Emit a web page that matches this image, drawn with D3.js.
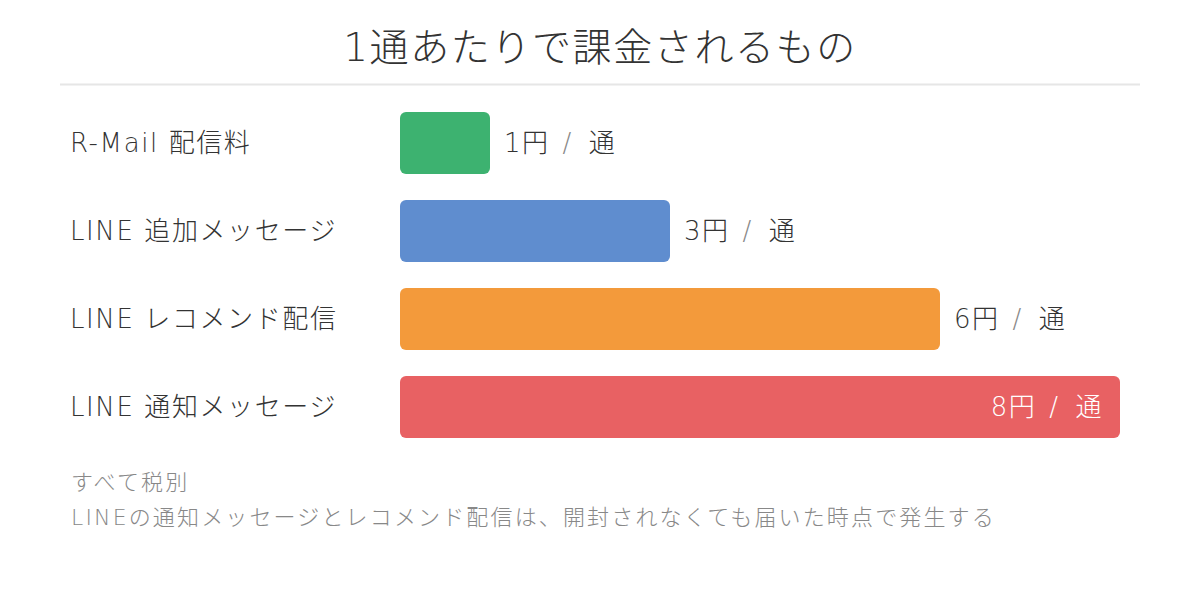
<!DOCTYPE html>
<html><head><meta charset="utf-8">
<script src="https://cdn.jsdelivr.net/npm/d3@7"></script>
<style>
html,body{margin:0;padding:0;background:#fff;}
svg{display:block;font-family:"DejaVu Sans","Noto Sans CJK JP",sans-serif;}
</style></head>
<body>
<svg id="chart" width="1200" height="592"></svg>
<script>
const title = "1通あたりで課金されるもの";
const categories = ["R-Mail 配信料", "LINE 追加メッセージ", "LINE レコメンド配信", "LINE 通知メッセージ"];
const values = [1, 3, 6, 8];
const colors = ["#3db270", "#5f8dcf", "#f39a3b", "#e86163"];
const unitLabel = "円";
const perLabel = "通";
const notes = ["すべて税別", "LINEの通知メッセージとレコメンド配信は、開封されなくても届いた時点で発生する"];

const svg = d3.select("#chart");
svg.append("text").attr("x", 600).attr("y", 61).attr("text-anchor", "middle")
  .attr("font-size", 39).attr("font-weight", 300).attr("letter-spacing", 1.6)
  .attr("fill", "#333").text(title);
svg.append("line").attr("x1", 60).attr("x2", 1140).attr("y1", 84.5).attr("y2", 84.5)
  .attr("stroke", "#e6e6e6").attr("stroke-width", 2);

const x = d3.scaleLinear().domain([0, 8]).range([400, 1120]);
const step = 88, bh = 62;
const y = d3.scalePoint().domain(categories).range([112, 112 + step * (categories.length - 1)]);

const g = svg.selectAll("g.row").data(categories).enter().append("g");
g.append("text").attr("x", 70).attr("y", c => y(c) + bh/2).attr("dy", "0.36em")
  .attr("font-size", 26).attr("font-weight", 300).attr("letter-spacing", 1.6)
  .attr("fill", "#333").text(c => c);
g.append("rect").attr("x", x(0)).attr("y", c => y(c))
  .attr("width", (c,i) => x(values[i]) - x(0)).attr("height", bh)
  .attr("rx", 6).attr("fill", (c,i) => colors[i]);
g.each(function(c, i){
  const inside = values[i] === d3.max(values);
  const t = d3.select(this).append("text")
    .attr("x", inside ? x(values[i]) - 17 : x(values[i]) + 14)
    .attr("y", y(c) + bh/2).attr("dy", "0.36em")
    .attr("text-anchor", inside ? "end" : "start")
    .attr("font-size", 26).attr("font-weight", 300).attr("letter-spacing", 1.5)
    .attr("fill", inside ? "#fff" : "#333");
  t.append("tspan").text(values[i] + unitLabel);
  t.append("tspan").attr("dx", 13).attr("fill", inside ? "#fff" : "#888").text("/");
  t.append("tspan").attr("dx", 16).text(perLabel);
});

svg.selectAll("text.note").data(notes).enter().append("text").attr("class","note")
  .attr("x", 71).attr("y", (d,i) => 490 + i*35).attr("font-size", 22).attr("font-weight", 300)
  .attr("letter-spacing", 2.15).attr("fill", "#888").text(d => d);
</script>
</body></html>
